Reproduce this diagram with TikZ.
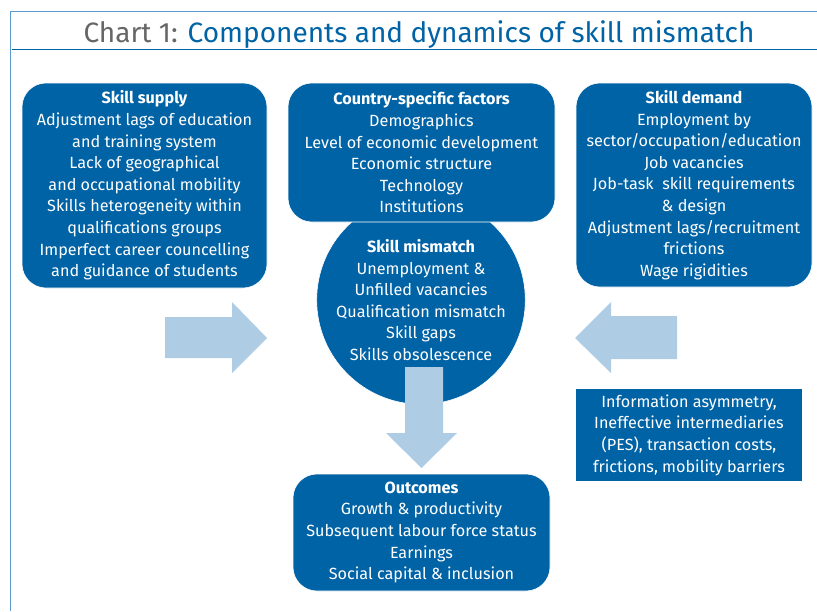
\documentclass[tikz,border=0pt]{standalone}
\usepackage{fontspec}
\setmainfont{Fira Sans}
\usetikzlibrary{positioning}
\definecolor{ecblue}{HTML}{0063A6}
\definecolor{arrowblue}{HTML}{AECDE4}
\definecolor{framecol}{HTML}{5A9AD0}
\definecolor{titlegray}{HTML}{666666}
\begin{document}
\begin{tikzpicture}[x=1pt, y=-1pt,
    factorbox/.style={fill=ecblue, draw=white, line width=0.6pt, rounded corners=24pt,
        text=white, align=center, font=\fontsize{16.2}{21.6}\selectfont, inner sep=0pt},
    arrowfill/.style={fill=arrowblue, draw=none}]
        % canvas
        \useasboundingbox (0,0) rectangle (817,611);
        
        % Frame and title
        \draw[framecol, line width=1pt] (10,611) -- (10,11) -- (817,11);
        \draw[ecblue, line width=1pt] (12,49) -- (817,49);
        \node[font=\fontsize{28}{30}\selectfont, anchor=base] (title) at (419,42)
            {\textcolor{titlegray}{Chart 1:} \textcolor{ecblue}{Components and dynamics of skill mismatch}};
        
        % Skill mismatch (behind the country box)
        \node[factorbox, circle, minimum size=194pt, rounded corners=0pt] (mismatch) at (421,300)
            {\textbf{Skill mismatch}\\Unemployment \&\\Unfilled vacancies\\Qualification mismatch\\Skill gaps\\Skills obsolescence};
        
        % Three boxes on top
        \node[factorbox, minimum width=245pt, minimum height=205pt] (supply) at (144.5,185.5)
            {\textbf{Skill supply}\\Adjustment lags of education\\and training system\\Lack of geographical\\and occupational mobility\\Skills heterogeneity within\\qualifications groups\\Imperfect career councelling\\and guidance of students};
        \node[factorbox, minimum width=267pt, minimum height=139pt] (country) at (421.5,152.5)
            {\textbf{Country-specific factors}\\Demographics\\Level of economic development\\Economic structure\\Technology\\Institutions};
        \node[factorbox, minimum width=236pt, minimum height=204pt] (demand) at (694,185)
            {\textbf{Skill demand}\\Employment by\\sector/occupation/education\\Job vacancies\\Job-task\ \ skill requirements\\\& design\\Adjustment lags/recruitment\\frictions\\Wage rigidities};
        
        % Frictions box (sharp corners)
        \node[factorbox, rounded corners=0pt, minimum width=227pt, minimum height=93pt] (info) at (689,435)
            {Information asymmetry,\\Ineffective intermediaries\\(PES), transaction costs,\\frictions, mobility barriers};
        
        % Outcomes
        \node[factorbox, minimum width=257pt, minimum height=117pt] (outcomes) at (421.5,532.5)
            {\textbf{Outcomes}\\Growth \& productivity\\Subsequent labour force status\\Earnings\\Social capital \& inclusion};
        
        % Block arrows
        \fill[arrowfill] (165,317) -- (232,317) -- (232,302) -- (267,338) -- (232,373) -- (232,358) -- (165,358) -- cycle;
        \fill[arrowfill] (677,316) -- (611,316) -- (611,302) -- (575,338) -- (611,373) -- (611,359) -- (677,359) -- cycle;
        \fill[arrowfill] (405,367) -- (443,367) -- (443,433) -- (457,433) -- (421.5,468) -- (386,433) -- (405,433) -- cycle;
        
    \end{tikzpicture}
\end{document}
